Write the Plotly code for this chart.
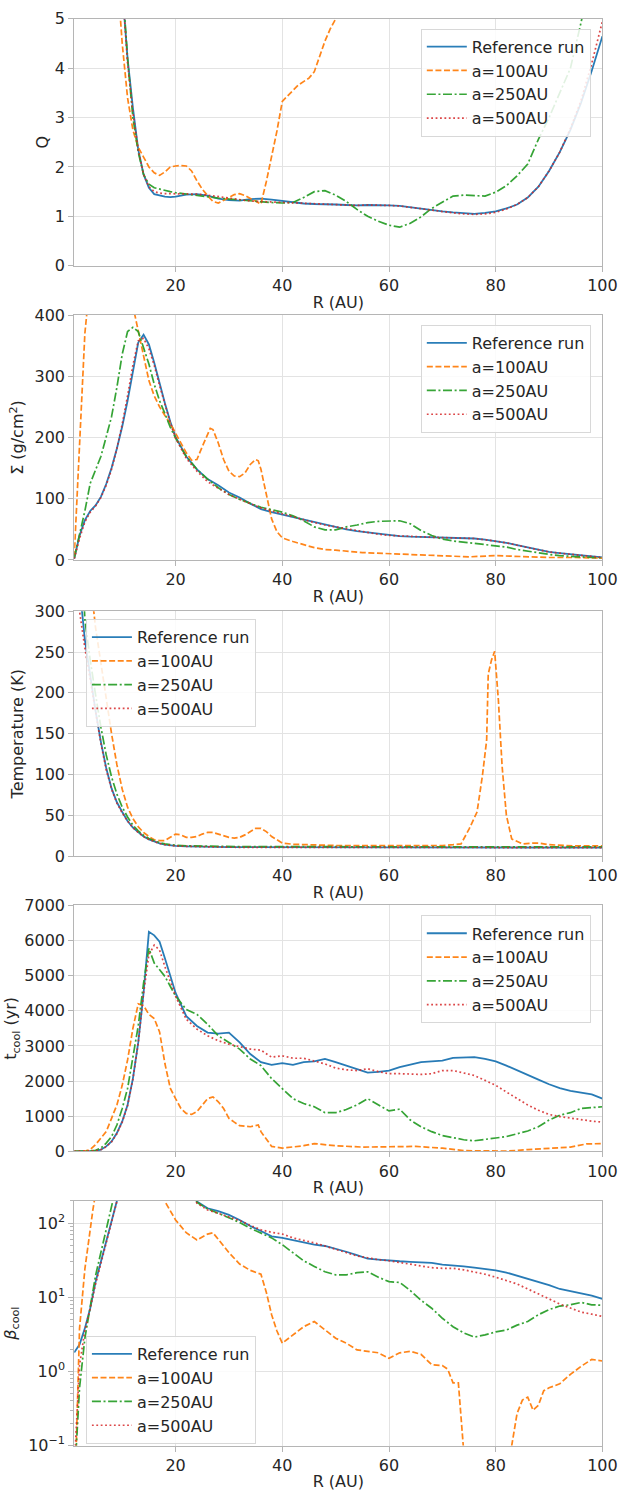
import plotly.graph_objects as go
import math

# ---------------- data ----------------
R_GRID = [1, 2, 3, 4, 5, 6, 7, 8, 9, 10, 11, 12, 13, 14, 15, 16, 17, 18, 19, 20,
          22, 24, 26, 28, 30, 32, 34, 36, 38, 40, 42, 44, 46, 48, 50, 52, 54, 56, 58, 60,
          62, 64, 66, 68, 70, 72, 74, 76, 78, 80, 82, 84, 86, 88, 90, 92, 94, 96, 98, 100]

SERIES_NAMES = ["Reference run", "a=100AU", "a=250AU", "a=500AU"]

# Panel 1: Toomre Q
Q_ref = [60, 45, 35, 27, 21, 16, 12, 9.5, 7.5, 5.6,
         4.2, 3.2, 2.35, 1.85, 1.58, 1.45, 1.42, 1.40, 1.39, 1.40,
         1.44, 1.45, 1.42, 1.36, 1.33, 1.32, 1.35, 1.36, 1.34, 1.31,
         1.28, 1.26, 1.25, 1.25, 1.24, 1.23, 1.22, 1.23, 1.23, 1.22,
         1.21, 1.18, 1.16, 1.13, 1.10, 1.08, 1.06, 1.05, 1.07, 1.10,
         1.16, 1.24, 1.38, 1.60, 1.92, 2.30, 2.75, 3.30, 3.95, 4.65]
Q_500 = [60, 45, 35, 27, 21, 16, 12, 9.5, 7.5, 5.7,
         4.1, 3.1, 2.35, 1.85, 1.60, 1.50, 1.47, 1.46, 1.46, 1.46,
         1.46, 1.45, 1.43, 1.40, 1.37, 1.33, 1.31, 1.30, 1.29, 1.28,
         1.27, 1.26, 1.25, 1.25, 1.24, 1.23, 1.22, 1.23, 1.23, 1.22,
         1.21, 1.18, 1.15, 1.12, 1.09, 1.07, 1.05, 1.04, 1.05, 1.08,
         1.15, 1.24, 1.38, 1.60, 1.92, 2.30, 2.78, 3.35, 4.10, 4.95]
Q_250 = [60, 45, 35, 27, 21, 16, 12, 9.5, 7.5, 5.8,
         4.2, 3.0, 2.3, 1.85, 1.65, 1.58, 1.55, 1.52, 1.50, 1.48,
         1.45, 1.42, 1.40, 1.37, 1.35, 1.33, 1.31, 1.30, 1.28, 1.27,
         1.28, 1.38, 1.50, 1.52, 1.43, 1.30, 1.14, 1.00, 0.90, 0.82,
         0.78, 0.86, 0.99, 1.16, 1.29, 1.41, 1.43, 1.42, 1.41, 1.49,
         1.62, 1.82, 2.06, 2.56, 3.00, 3.50, 4.00, 4.93, 6.0, 7.0]
R_Q100 = [1, 2, 3, 4, 5, 6, 7, 8, 9, 10, 11, 12, 13, 14, 15, 16, 17, 18, 19, 20,
          21, 22, 23, 24, 25, 26, 27, 28, 29, 30, 31, 32, 33, 34, 35, 36, 37, 38, 39, 40,
          41, 42, 43, 44, 45, 46, 47, 48, 49, 50, 52, 55, 60, 70, 80, 90, 100]
Q_100 = [60, 45, 35, 27, 21, 15, 11, 8, 6, 4.5,
         3.4, 2.75, 2.4, 2.2, 2.0, 1.88, 1.83, 1.9, 2.0, 2.02,
         2.03, 2.02, 1.92, 1.72, 1.55, 1.42, 1.30, 1.27, 1.32, 1.38,
         1.44, 1.46, 1.42, 1.36, 1.30, 1.25, 1.70, 2.19, 2.73, 3.33,
         3.45, 3.55, 3.66, 3.73, 3.80, 3.93, 4.26, 4.55, 4.80, 5.00,
         5.5, 6.2, 7, 9, 11, 13, 15]

# Panel 2: surface density (g/cm^2)
S_ref = [2, 40, 65, 80, 89, 103, 124, 150, 182, 218,
         260, 305, 355, 368, 352, 322, 288, 256, 226, 201,
         169, 148, 132, 122, 110, 102, 92, 83, 78, 74,
         70, 66, 61, 57, 54, 50, 47, 45, 42, 40,
         39, 38, 37.5, 37, 36.5, 36, 35.5, 35, 33, 31,
         28, 24, 20, 16, 13, 11, 9, 7, 5.5, 4]
S_500 = [2, 35, 62, 78, 88, 102, 122, 148, 182, 222,
         268, 318, 358, 362, 345, 318, 285, 254, 224, 199,
         166, 145, 128, 117, 107, 99, 92, 85, 80, 75,
         70, 66, 61, 57, 54, 50, 47, 45, 42, 40,
         39, 38, 37.5, 37, 36.5, 36, 35.5, 35, 33, 31,
         28, 24, 20, 16, 13, 11, 9, 7, 5.5, 4]
S_250 = [3, 40, 80, 125, 148, 169, 201, 234, 282, 336,
         373, 380, 373, 346, 320, 287, 260, 239, 217, 199,
         169, 148, 132, 118, 107, 99, 92, 86, 82, 78,
         72, 64, 54, 49, 49, 54, 57, 61, 63, 64,
         64, 59, 48, 40, 34, 31, 29, 28, 26, 24,
         21, 17, 14, 11, 9, 7, 6, 5, 4, 3]
R_S100 = [1, 2, 3, 4, 5, 6, 8, 10,
          11, 12, 13, 14, 15, 16, 17, 18, 19, 20, 21, 22, 23, 24, 25, 26,
          26.5, 27, 28, 29, 30, 31, 32, 33, 34, 35, 35.5, 36, 37, 38, 39, 40,
          42, 44, 46, 48, 50, 55, 60, 65, 70, 75, 80, 85, 90, 95, 100]
S_100 = [5, 190, 370, 460, 520, 560, 600, 520,
         470, 415, 373, 330, 293, 268, 250, 236, 223, 207, 191, 175, 163, 164, 185, 207,
         215, 213, 191, 164, 145, 137, 136, 142, 156, 164, 162, 148, 105, 67, 46, 36,
         30, 25, 20, 17, 16, 12, 10, 8, 6, 5, 7, 5, 4, 4, 3]

# Panel 3: temperature (K)
T_ref = [500, 330, 265, 220, 178, 140, 108, 83, 66, 54,
         43, 35, 29, 24, 20.5, 17.5, 15.5, 14, 13, 12.5,
         12, 11.6, 11.3, 11.1, 11, 11, 10.9, 10.9, 10.8, 10.8,
         10.8, 10.8, 10.7, 10.7, 10.7, 10.7, 10.7, 10.6, 10.6, 10.6,
         10.6, 10.6, 10.6, 10.6, 10.6, 10.5, 10.5, 10.5, 10.5, 10.5,
         10.5, 10.5, 10.5, 10.5, 10.5, 10.5, 10.5, 10.5, 10.5, 10.5]
T_500 = [600, 300, 255, 215, 175, 138, 106, 82, 65, 53,
         43, 35, 29, 24, 20.5, 17.5, 15.5, 14, 13, 12.5,
         12, 11.5, 11.2, 11, 10.9, 10.8, 10.8, 10.7, 10.7, 10.7,
         10.7, 10.6, 10.6, 10.6, 10.6, 10.6, 10.6, 10.5, 10.5, 10.5,
         10.5, 10.5, 10.5, 10.5, 10.5, 10.4, 10.4, 10.4, 10.4, 10.4,
         10.4, 10.4, 10.4, 10.4, 10.4, 10.4, 10.4, 10.4, 10.4, 10.4]
T_250 = [900, 420, 290, 240, 198, 158, 124, 97, 76, 60,
         48, 38, 31, 25.5, 21.5, 18.5, 16.5, 15, 14, 13.3,
         12.7, 12.3, 12, 11.8, 11.7, 11.6, 11.6, 11.5, 11.5, 11.5,
         11.5, 11.5, 11.5, 11.5, 11.5, 11.5, 11.5, 11.5, 11.5, 11.5,
         11.5, 11.5, 11.5, 11.5, 11.5, 11.5, 11.5, 11.5, 11.4, 11.4,
         11.4, 11.4, 11.4, 11.4, 11.3, 11.3, 11.3, 11.3, 11.3, 11.3]
R_T100 = [1, 2, 3, 4, 4.5,
          5, 6, 7, 8, 9, 10, 11, 12, 13, 14,
          15, 16, 17, 18, 19, 20, 21, 22, 23, 24,
          25, 26, 27, 28, 29, 30, 31, 32, 33, 34,
          35, 36, 37, 38, 39, 40,
          42, 44, 46, 50, 55, 60, 65, 70, 72,
          73.5, 75, 76, 76.5, 77.5, 78.3, 78.6, 79.2, 79.8, 80.5, 81.2, 82, 83,
          85, 87, 88, 90, 95, 100]
T_100 = [2000, 1000, 600, 380, 310,
         280, 235, 190, 150, 112, 82, 60, 46, 36, 29,
         24, 20, 19, 19, 23, 27, 26, 23, 23, 24,
         27, 29, 29, 27, 25, 23, 22, 23, 26, 30,
         34, 34, 30, 24, 20, 16,
         14.5, 14, 13.5, 13, 13, 13, 13, 13, 14,
         15, 33, 48, 54, 98, 142, 223, 240, 251, 191, 110, 50, 21,
         15, 16, 16, 14, 12.5, 12.5]

# Panel 4: cooling time (yr)
tc_ref = [0, 0, 0, 5, 15, 47, 140, 280, 520, 850,
          1320, 2070, 3100, 4510, 6250, 6150, 5970, 5500, 4980, 4510,
          3850, 3570, 3380, 3350, 3380, 3100, 2770, 2540, 2460, 2510,
          2460, 2540, 2560, 2630, 2540, 2440, 2350, 2240, 2260, 2300,
          2400, 2460, 2540, 2560, 2580, 2660, 2680, 2680, 2630, 2560,
          2440, 2300, 2160, 2040, 1910, 1800, 1720, 1660, 1620, 1500]
tc_500 = [0, 0, 0, 5, 15, 45, 130, 270, 500, 830,
          1300, 2050, 3080, 4500, 5600, 5870, 5730, 5260, 4840, 4420,
          3760, 3480, 3290, 3150, 3050, 2980, 2910, 2880, 2680, 2720,
          2650, 2650, 2580, 2490, 2370, 2320, 2300, 2350, 2270, 2210,
          2210, 2200, 2190, 2210, 2300, 2300, 2240, 2160, 2020, 1880,
          1690, 1500, 1320, 1170, 1050, 990, 940, 890, 860, 830]
tc_250 = [0, 0, 0, 10, 30, 90, 235, 420, 750, 1220,
          1790, 2630, 3570, 4790, 5780, 5360, 5170, 4980, 4700, 4420,
          4040, 3900, 3620, 3290, 3100, 2910, 2630, 2440, 2070, 1790,
          1500, 1360, 1270, 1100, 1100, 1190, 1320, 1500, 1320, 1150,
          1200, 890, 700, 560, 450, 380, 330, 300, 330, 380,
          420, 490, 580, 700, 890, 1030, 1100, 1220, 1240, 1270]
R_tc100 = [1, 2, 3, 4, 5, 6, 7, 8, 9, 10, 11, 12, 13, 14, 15, 16, 17, 18, 19, 20,
           21, 22, 23, 24, 25, 26, 27, 28, 29, 30, 31, 32,
           34, 35.5, 36, 37, 38, 40, 42, 44, 46, 48, 50, 55, 60, 65, 68, 70,
           74, 78, 82, 86, 90, 94, 97, 100]
tc_100 = [0, 0, 5, 50, 190, 380, 560, 940, 1320, 1880,
          2600, 3500, 4200, 4150, 3900, 3780, 3400, 2500, 1800, 1500,
          1220, 1080, 1050, 1130, 1320, 1500, 1550, 1410, 1220, 940, 830, 730,
          700, 750, 560, 360, 140, 90, 120, 160, 220, 190, 160, 120, 120, 140, 110, 90,
          20, 5, 5, 50, 75, 120, 210, 220]

# Panel 5: beta_cool
b_ref = [1.8, 2.3, 3.8, 7.1, 16, 30, 60, 110, 205, 400,
         700, 1000, 1500, 2000, 2500, 3000, 2500, 2000, 1500, 1000,
         400, 195, 158, 145, 129, 110, 91, 78, 66, 63,
         59, 55, 51, 49, 45, 41, 37, 33, 32, 31,
         30.5, 30, 29.5, 29, 27.5, 27, 26, 25, 24, 23,
         21.5, 19.5, 17.8, 15.8, 14.5, 12.9, 12, 11.2, 10.5, 9.5]
b_500 = [0.05, 1.2, 3.6, 7.0, 15, 29, 58, 105, 200, 400,
         700, 1000, 1500, 2000, 2500, 3000, 2500, 2000, 1500, 1000,
         400, 185, 150, 135, 122, 108, 93, 81, 75, 71,
         63, 59, 54, 49, 44, 40, 36, 34, 32, 31,
         29.5, 28, 26.5, 25, 24.5, 24.5, 23.4, 21.9, 20.4, 18.6,
         16.6, 15.1, 12.9, 11.2, 9.5, 8.1, 7.2, 6.3, 5.9, 5.5]
b_250 = [0.03, 0.6, 2.8, 7.1, 19.5, 40, 81, 166, 350, 700,
         1000, 1500, 2000, 2500, 3000, 3000, 2500, 2000, 1500, 1000,
         400, 190, 155, 135, 117, 102, 85, 74, 63, 51,
         40, 31, 26, 22, 20, 20, 21.4, 22, 18.6, 16.2,
         15.8, 12.3, 9.1, 7.1, 5.2, 4.0, 3.3, 2.9, 3.1, 3.4,
         3.6, 4.2, 4.7, 5.8, 6.8, 7.6, 7.9, 8.5, 7.9, 7.8]
R_b100 = [1, 2, 3, 4, 4.5, 5, 6, 8, 10, 12,
          14, 16, 17, 18, 20, 22, 24, 26, 27, 28,
          30, 32, 34, 36, 37, 38, 39, 40, 42, 44,
          46, 48, 50, 52, 54, 56, 58, 60, 62, 64,
          66, 68, 70, 71, 72, 73, 74, 75, 82, 83,
          84, 85, 86, 87, 88, 89, 90, 92, 94, 96,
          98, 100]
b_100 = [0.01, 3.8, 24, 91, 150, 250, 600, 2000, 5000, 5000,
         3000, 800, 400, 195, 110, 74, 59, 71, 74, 60,
         40, 28, 23, 20.4, 11.7, 5.8, 3.5, 2.4, 3.1, 4.0,
         4.7, 3.6, 2.8, 2.4, 1.95, 1.86, 1.78, 1.5, 1.78, 1.86,
         1.7, 1.23, 1.2, 1.07, 0.7, 0.7, 0.11, 0.01, 0.01, 0.1,
         0.27, 0.41, 0.45, 0.3, 0.35, 0.55, 0.6, 0.68, 0.91, 1.17,
         1.45, 1.38]

PANELS = [
    [(R_GRID, Q_ref), (R_Q100, Q_100), (R_GRID, Q_250), (R_GRID, Q_500)],
    [(R_GRID, S_ref), (R_S100, S_100), (R_GRID, S_250), (R_GRID, S_500)],
    [(R_GRID, T_ref), (R_T100, T_100), (R_GRID, T_250), (R_GRID, T_500)],
    [(R_GRID, tc_ref), (R_tc100, tc_100), (R_GRID, tc_250), (R_GRID, tc_500)],
    [(R_GRID, b_ref), (R_b100, b_100), (R_GRID, b_250), (R_GRID, b_500)],
]

# ---------------- styling ----------------
W, H = 635, 1498
FONT = "DejaVu Sans"
TXT = "#262626"
GRID = "#e3e3e3"
SPINE = "#b5b5b5"
COLORS = ["#1f77b4", "#ff7f0e", "#2ca02c", "#d62728"]
DASHES = ["solid", "6px,2.6px", "9px,2.6px,2px,2.6px", "1.8px,2.6px"]
WIDTHS = [1.8, 1.7, 1.7, 1.7]

X_LEFT, X_RIGHT = 76, 617
PANEL_PX = [(10, 260), (310, 558), (610, 858), (908, 1157), (1207, 1455)]
LEG_POS = [(431, 20), (431, 320), (88, 618), (431, 918), (88, 1344)]
Y_STANDOFF = [2, 6, 6, 3, 7]

fig = go.Figure()

for p, series in enumerate(PANELS):
    idx = p + 1
    sfx = "" if idx == 1 else str(idx)
    for s, (xs, ys) in enumerate(series):
        fig.add_trace(go.Scatter(
            x=xs, y=ys, mode="lines", name=SERIES_NAMES[s],
            line=dict(color=COLORS[s], width=WIDTHS[s], dash=DASHES[s]),
            xaxis="x" + sfx, yaxis="y" + sfx,
            legend="legend" + sfx, legendgroup=f"p{idx}s{s}",
            opacity=0.95 if s != 3 else 0.85,
        ))

layout = dict(
    width=W, height=H,
    margin=dict(l=0, r=0, t=0, b=0),
    paper_bgcolor="white", plot_bgcolor="white",
    font=dict(family=FONT, size=16, color=TXT),
)

Y_TITLES = ["Q", "Σ (g/cm<sup>2</sup>)", "Temperature (K)",
            "t<sub>cool</sub> (yr)", "<i>β</i><sub>cool</sub>"]
Y_RANGES = [[0, 5], [0, 400], [0, 300], [0, 7000], [-1, math.log10(200)]]
Y_DTICK = [1, 100, 50, 1000, None]

for p in range(5):
    idx = p + 1
    sfx = "" if idx == 1 else str(idx)
    top, bot = PANEL_PX[p]
    xa = dict(
        domain=[X_LEFT / W, X_RIGHT / W], anchor="y" + sfx,
        range=[1, 100], tickmode="array", tickvals=[20, 40, 60, 80, 100],
        showgrid=True, gridcolor=GRID, gridwidth=1,
        showline=True, linecolor=SPINE, linewidth=1, mirror=True,
        ticks="outside", ticklen=5, tickcolor=SPINE, tickwidth=1,
        tickfont=dict(size=16, color=TXT), zeroline=False,
        title=dict(text="R (AU)", font=dict(size=16, color=TXT), standoff=2),
    )
    ya = dict(
        domain=[1 - bot / H, 1 - top / H], anchor="x" + sfx,
        range=Y_RANGES[p],
        showgrid=True, gridcolor=GRID, gridwidth=1,
        showline=True, linecolor=SPINE, linewidth=1, mirror=True,
        ticks="outside", ticklen=5, tickcolor=SPINE, tickwidth=1,
        tickfont=dict(size=16, color=TXT), zeroline=False,
        title=dict(text=Y_TITLES[p], font=dict(size=16, color=TXT), standoff=Y_STANDOFF[p]),
    )
    if p == 4:
        ya.update(type="log", tickmode="array",
                  tickvals=[0.1, 1, 10, 100],
                  ticktext=["10<sup>−1</sup>", "10<sup>0</sup>", "10<sup>1</sup>", "10<sup>2</sup>"],
                  minor=dict(tickmode="array",
                             tickvals=[0.2, 0.3, 0.4, 0.5, 0.6, 0.7, 0.8, 0.9,
                                       2, 3, 4, 5, 6, 7, 8, 9,
                                       20, 30, 40, 50, 60, 70, 80, 90, 200],
                             ticks="outside", ticklen=3, tickcolor=SPINE, showgrid=False))
    else:
        ya.update(tick0=0, dtick=Y_DTICK[p])
    layout["xaxis" + sfx] = xa
    layout["yaxis" + sfx] = ya
    lx, ly = LEG_POS[p]
    layout["legend" + sfx] = dict(
        x=lx / W, y=1 - ly / H, xanchor="left", yanchor="top",
        bgcolor="rgba(255,255,255,0.85)", bordercolor="#d8d8d8", borderwidth=1,
        font=dict(size=16, color=TXT), tracegroupgap=0,
        itemwidth=40,
    )

fig.update_layout(**layout)
fig.write_html("out.html")
